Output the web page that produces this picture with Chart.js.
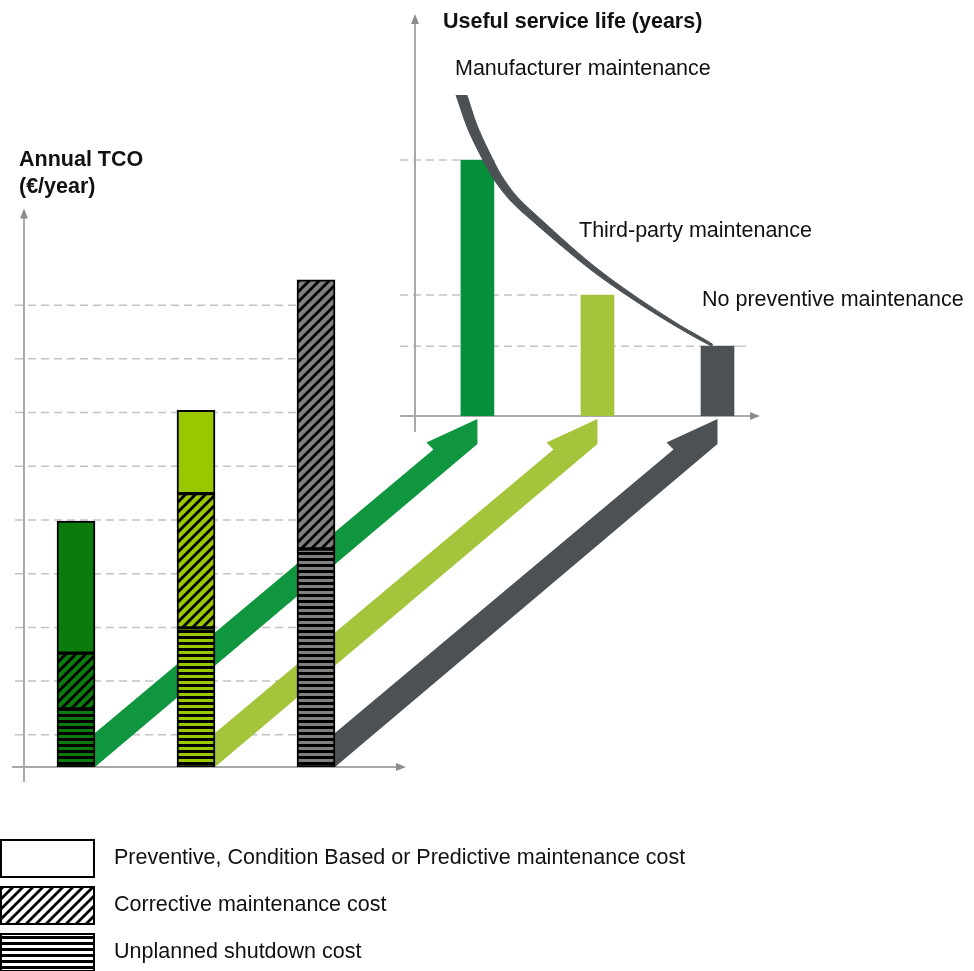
<!DOCTYPE html>
<html>
<head>
<meta charset="utf-8">
<script src="https://cdn.jsdelivr.net/npm/chart.js@4.4.1/dist/chart.umd.min.js"></script>
<style>
  html, body { margin: 0; padding: 0; background: #fff; }
  #wrap { position: relative; width: 974px; height: 971px; overflow: hidden; }
  #wrap canvas { position: absolute; left: 0; top: 0; }
</style>
</head>
<body>
<div id="wrap">
  <canvas id="tcoChart" width="974" height="971"></canvas>
  <canvas id="lifeChart" width="974" height="971"></canvas>
</div>
<script>
// Scenarios and cost types
const scenarios = ['Manufacturer maintenance', 'Third-party maintenance', 'No preventive maintenance'];
const costTypes = [
  'Preventive, Condition Based or Predictive maintenance cost',
  'Corrective maintenance cost',
  'Unplanned shutdown cost'
];

// Annual TCO stacks (relative units)
const unplannedCost = [1.08, 2.59, 4.06];
const correctiveCost = [1.04, 2.50, 5.01];
const preventiveCost = [2.46, 1.55, 0];
const tcoGridValues = [0.6, 1.6, 2.6, 3.6, 4.6, 5.6, 6.6, 7.6, 8.6];

// Useful service life (years, relative)
const lifeSlots = [1, 2, 3];
const serviceLife = [11, 5.2, 3];

// Service life curve outline: upper-right edge and lower-left edge
const curveUpperX = [0.913, 0.993, 1.089, 1.201, 1.336, 1.540, 1.745, 1.951, 2.149, 2.404, 2.694, 2.958];
const curveUpperY = [13.79, 12.54, 11.44, 10.33, 9.39, 8.40, 7.44, 6.53, 5.75, 4.84, 3.88, 3.09];
const curveLowerX = [0.822, 0.917, 1.021, 1.142, 1.290, 1.503, 1.714, 1.925, 2.127, 2.388, 2.681, 2.950];
const curveLowerY = [13.79, 12.38, 11.25, 10.13, 9.17, 8.18, 7.25, 6.36, 5.60, 4.70, 3.77, 3.01];

// Colours
const tcoColors = ['#0b7b0d', '#99c800', '#808080'];
const lifeColors = ['#06903b', '#a3c33a', '#4c5156'];
const arrowColors = ['#0f963f', '#a4c53b', '#4c5156'];
const curveColor = '#4c5156';

const FONT = '"Liberation Sans", Arial, sans-serif';

// Build a striped fill (diagonal hatch or horizontal lines)
const makePattern = (kind, color, ink = '#000') => {
  const c = document.createElement('canvas');
  const size = kind === 'diag' ? 10 : 6;
  c.width = size;
  c.height = size;
  const g = c.getContext('2d');
  g.fillStyle = color;
  g.fillRect(0, 0, size, size);
  g.fillStyle = ink;
  g.strokeStyle = ink;
  if (kind === 'diag') {
    g.lineWidth = 2.8;
    g.beginPath();
    g.moveTo(-2, size + 2); g.lineTo(size + 2, -2);
    g.moveTo(-5, 5); g.lineTo(5, -5);
    g.moveTo(5, size + 5); g.lineTo(size + 5, 5);
    g.stroke();
  } else if (kind === 'horiz') {
    g.fillRect(0, 0, size, 3);
  }
  return g.createPattern(c, 'repeat');
};

const axisArrow = (ctx, x, y, dir) => {
  ctx.beginPath();
  if (dir === 'up') {
    ctx.moveTo(x, y); ctx.lineTo(x - 4, y + 10); ctx.lineTo(x + 4, y + 10);
  } else {
    ctx.moveTo(x, y); ctx.lineTo(x - 10, y - 4); ctx.lineTo(x - 10, y + 4);
  }
  ctx.closePath();
  ctx.fill();
};

const drawAxes = (ctx, ax, top, bottom, ay, left, right) => {
  ctx.save();
  ctx.strokeStyle = '#a9a9a9';
  ctx.fillStyle = '#8c8c8c';
  ctx.lineWidth = 2;
  ctx.beginPath();
  ctx.moveTo(ax, bottom); ctx.lineTo(ax, top + 8);
  ctx.moveTo(left, ay); ctx.lineTo(right - 8, ay);
  ctx.stroke();
  axisArrow(ctx, ax, top, 'up');
  axisArrow(ctx, right, ay, 'right');
  ctx.restore();
};

// Thick arrow from a TCO bar foot to a service-life bar foot
const drawBigArrow = (ctx, sx, sy, ex, ey, color) => {
  const h = 29;
  const m = (ey + 28 - (sy - 5)) / (ex - sx);
  const yBot = (x) => sy - 5 + m * (x - sx);
  const yTop = (x) => yBot(x) - h;
  ctx.save();
  ctx.fillStyle = color;
  ctx.beginPath();
  ctx.moveTo(sx, sy);
  ctx.lineTo(sx, yTop(sx));
  ctx.lineTo(ex - 44, yTop(ex - 44) - 2);
  ctx.lineTo(ex - 51, yTop(ex - 51) - 15);
  ctx.lineTo(ex, ey + 3);
  ctx.lineTo(ex, yBot(ex));
  ctx.closePath();
  ctx.fill();
  ctx.restore();
};

// --- Useful service life chart (top right) ---
const lifeDecor = {
  id: 'lifeDecor',
  beforeDatasetsDraw(chart) {
    const { ctx, chartArea, scales } = chart;
    const base = scales.y.getPixelForValue(0);
    const bars = chart.getDatasetMeta(1).data;
    ctx.save();
    ctx.strokeStyle = '#c4c4c4';
    ctx.lineWidth = 1.5;
    ctx.setLineDash([8, 5]);
    bars.forEach((bar) => {
      ctx.beginPath();
      ctx.moveTo(chartArea.left - 15, bar.y);
      ctx.lineTo(bar.x - bar.width / 2, bar.y);
      ctx.stroke();
    });
    ctx.setLineDash([]);
    const last = bars[bars.length - 1];
    ctx.beginPath();
    ctx.moveTo(last.x + last.width / 2, last.y);
    ctx.lineTo(last.x + last.width / 2 + 12, last.y);
    ctx.stroke();
    ctx.restore();
    drawAxes(ctx, chartArea.left, chartArea.top - 2, base + 16, base, chartArea.left - 15, chartArea.right);
  },
  afterDraw(chart) {
    const { ctx } = chart;
    ctx.save();
    ctx.fillStyle = '#111';
    ctx.textBaseline = 'middle';
    ctx.font = 'bold 21.5px ' + FONT;
    ctx.fillText('Useful service life (years)', 443, 22);
    ctx.font = '21.5px ' + FONT;
    const labelPos = [[455, 69], [579, 231], [702, 300]];
    scenarios.forEach((s, i) => ctx.fillText(s, labelPos[i][0], labelPos[i][1]));
    ctx.restore();
  }
};

// outline goes down the upper edge and back up the lower edge
const curveOutline = curveUpperX.map((x, i) => ({ x, y: curveUpperY[i] }))
  .concat(curveLowerX.map((x, i) => ({ x, y: curveLowerY[i] })).reverse());

const lifeChart = new Chart(document.getElementById('lifeChart'), {
  type: 'bar',
  data: {
    datasets: [
      {
        type: 'line',
        label: 'Useful service life curve',
        data: curveOutline,
        borderColor: curveColor,
        backgroundColor: curveColor,
        borderWidth: 1,
        pointRadius: 0,
        tension: 0.3,
        fill: 'shape',
        order: 0
      },
      {
        type: 'bar',
        label: 'Useful service life',
        data: lifeSlots.map((x, i) => ({ x, y: serviceLife[i] })),
        backgroundColor: lifeColors,
        barThickness: 33,
        order: 1
      }
    ]
  },
  options: {
    responsive: false,
    animation: false,
    layout: { padding: { left: 415, right: 214, top: 16, bottom: 555 } },
    plugins: { legend: { display: false }, tooltip: { enabled: false } },
    scales: {
      x: { type: 'linear', display: false, offset: false, min: 0.48, max: 3.354 },
      y: { type: 'linear', display: false, min: 0, max: 17.19 }
    }
  },
  plugins: [lifeDecor]
});

// --- Annual TCO chart (left) ---
const tcoDecor = {
  id: 'tcoDecor',
  beforeDatasetsDraw(chart) {
    const { ctx, chartArea, scales } = chart;
    const base = scales.y.getPixelForValue(0);
    const footBars = chart.getDatasetMeta(0).data;
    const lastLeft = footBars[footBars.length - 1].x - footBars[footBars.length - 1].width / 2;

    ctx.save();
    ctx.strokeStyle = '#c2c2c2';
    ctx.lineWidth = 1.5;
    ctx.setLineDash([8, 5]);
    tcoGridValues.forEach((v) => {
      const y = scales.y.getPixelForValue(v);
      ctx.beginPath();
      ctx.moveTo(chartArea.left - 1, y);
      ctx.lineTo(lastLeft, y);
      ctx.stroke();
    });
    ctx.restore();

    drawAxes(ctx, chartArea.left + 8, chartArea.top, base + 15, base, chartArea.left - 4, chartArea.right + 30);

    const lifeBars = lifeChart.getDatasetMeta(1).data;
    const lifeBase = lifeChart.scales.y.getPixelForValue(0);
    footBars.forEach((bar, i) => {
      drawBigArrow(ctx, bar.x + bar.width / 2, bar.base, lifeBars[i].x, lifeBase, arrowColors[i]);
    });
  },
  afterDraw(chart) {
    const { ctx } = chart;
    ctx.save();
    ctx.fillStyle = '#111';
    ctx.textBaseline = 'middle';
    ctx.font = 'bold 21.5px ' + FONT;
    ctx.fillText('Annual TCO', 19, 160);
    ctx.fillText('(€/year)', 19, 187);

    // legend
    const kinds = ['solid', 'diag', 'horiz'];
    ctx.font = '21.5px ' + FONT;
    costTypes.forEach((label, i) => {
      const top = 840 + i * 47;
      ctx.fillStyle = kinds[i] === 'solid' ? '#fff' : makePattern(kinds[i], '#fff');
      ctx.fillRect(1, top, 93, 37);
      ctx.strokeStyle = '#000';
      ctx.lineWidth = 2;
      ctx.strokeRect(1, top, 93, 37);
      ctx.fillStyle = '#111';
      ctx.fillText(label, 114, top + 18);
    });
    ctx.restore();
  }
};

const barStyle = {
  borderColor: '#000',
  borderWidth: 2,
  borderSkipped: false,
  barThickness: 38
};

const tcoChart = new Chart(document.getElementById('tcoChart'), {
  type: 'bar',
  data: {
    labels: scenarios,
    datasets: [
      { label: costTypes[2], data: unplannedCost, backgroundColor: tcoColors.map((c) => makePattern('horiz', c)), ...barStyle },
      { label: costTypes[1], data: correctiveCost, backgroundColor: tcoColors.map((c) => makePattern('diag', c)), ...barStyle },
      { label: costTypes[0], data: preventiveCost, backgroundColor: tcoColors, ...barStyle }
    ]
  },
  options: {
    responsive: false,
    animation: false,
    layout: { padding: { left: 16, right: 598, top: 208.5, bottom: 204 } },
    plugins: { legend: { display: false }, tooltip: { enabled: false } },
    scales: {
      x: { display: false, stacked: true },
      y: { display: false, stacked: true, min: 0, max: 10.4 }
    }
  },
  plugins: [tcoDecor]
});
</script>
</body>
</html>
